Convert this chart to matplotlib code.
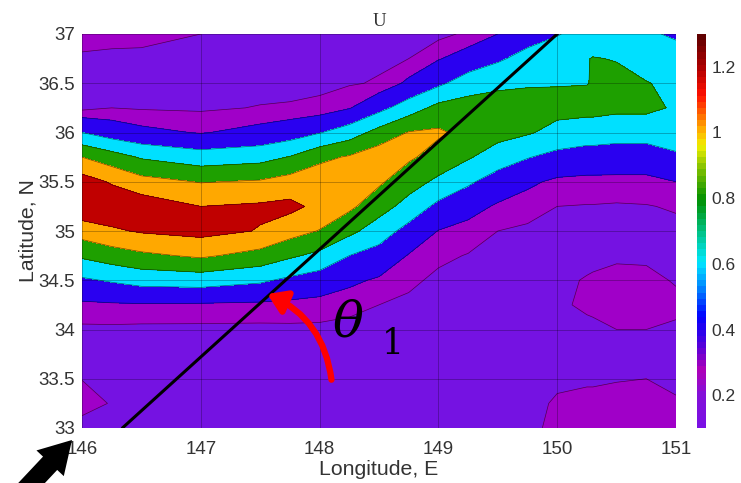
import numpy as np
import matplotlib
matplotlib.use('Agg')
import matplotlib.pyplot as plt
from matplotlib.cm import ScalarMappable
from matplotlib.colors import LinearSegmentedColormap, Normalize

plt.rcParams['font.family'] = ['Liberation Sans', 'DejaVu Sans']
plt.rcParams['mathtext.fontset'] = 'dejavuserif'

lon = [146, 146.25, 146.5, 147, 147.5, 147.75, 148, 148.25, 148.5, 148.75, 149, 149.25, 149.5, 149.75, 150, 150.25, 150.3, 150.5, 150.75, 151]
lat = [33, 33.25, 33.5, 33.75, 34, 34.25, 34.5, 34.75, 35, 35.25, 35.5, 35.75, 36, 36.25, 36.5, 36.75, 37]

# one row per longitude, values going north from 33
U = np.array([
    [.17, .23, .198, .17, .18, .27, .47, .73, .99, 1.25, 1.19, .90, .50, .17, .165, .185, .24],
    [.165, .195, .17, .165, .18, .28, .52, .80, 1.07, 1.24, 1.08, .79, .40, .20, .16, .18, .23],
    [.165, .165, .16, .16, .175, .285, .57, .86, 1.12, 1.22, .97, .68, .34, .19, .16, .18, .225],
    [.16, .16, .16, .16, .175, .28, .59, .93, 1.16, 1.10, .89, .59, .29, .185, .16, .17, .20],
    [.16, .16, .16, .16, .175, .27, .53, .83, 1.09, 1.13, .92, .63, .35, .205, .165, .16, .165],
    [.16, .16, .16, .16, .18, .26, .46, .73, .98, 1.15, .98, .71, .40, .21, .17, .16, .16],
    [.16, .16, .16, .16, .18, .25, .40, .65, .89, 1.05, 1.03, .85, .49, .22, .18, .16, .16],
    [.16, .16, .16, .16, .17, .23, .33, .50, .75, .94, 1.00, .92, .60, .29, .19, .17, .16],
    [.165, .165, .165, .165, .17, .20, .28, .42, .60, .78, .93, 1.02, .77, .44, .21, .18, .165],
    [.165, .165, .165, .165, .17, .18, .22, .29, .43, .63, .78, .93, .91, .60, .33, .20, .17],
    [.165, .165, .165, .165, .17, .17, .18, .22, .295, .45, .66, .82, .93, .76, .46, .29, .17],
    [.165, .165, .165, .165, .17, .17, .175, .195, .25, .36, .53, .72, .84, .79, .60, .37, .22],
    [.165, .17, .17, .17, .17, .165, .17, .18, .20, .28, .41, .60, .77, .79, .66, .47, .30],
    [.18, .175, .17, .17, .175, .175, .175, .175, .185, .235, .33, .51, .72, .79, .68, .57, .41],
    [.22, .21, .185, .175, .18, .19, .185, .175, .18, .20, .27, .44, .64, .76, .69, .60, .49],
    [.24, .22, .19, .175, .185, .21, .205, .18, .17, .195, .26, .41, .60, .76, .695, .69, .56],
    [.24, .22, .19, .175, .185, .215, .21, .18, .17, .195, .26, .41, .60, .76, .71, .71, .57],
    [.25, .23, .195, .185, .20, .23, .22, .19, .175, .19, .26, .40, .58, .74, .76, .69, .56],
    [.25, .23, .20, .19, .20, .225, .215, .19, .17, .195, .26, .40, .58, .74, .71, .60, .52],
    [.23, .205, .19, .18, .19, .215, .195, .18, .175, .21, .30, .47, .60, .68, .65, .56, .48],
]).T

levels = [0.1, 0.2, 0.3, 0.5, 0.7, 0.9, 1.1, 1.3]
band_colors = ['#7512e2', '#a000c8', '#2a00f0', '#00e0ff', '#1ea000', '#ffa800', '#c00000']

cbar_stops = [(0.0, '#7a10e4'), (0.08, '#8410d8'), (0.14, '#b000b8'), (0.2, '#5a00d8'), (0.28, '#0000ff'),
              (0.36, '#0090ff'), (0.42, '#00e8ff'), (0.5, '#00c080'), (0.58, '#009000'), (0.66, '#80c000'),
              (0.72, '#f0f000'), (0.76, '#ffb000'), (0.85, '#ff1000'), (0.92, '#b00000'), (1.0, '#600000')]
cbar_ticks = [0.2, 0.4, 0.6, 0.8, 1, 1.2]
cbar_labels = ['0.2', '0.4', '0.6', '0.8', '1', '1.2']

W, H = 741, 483
fig = plt.figure(figsize=(W / 100, H / 100), dpi=100)
ax = fig.add_axes([82 / W, 1 - 428 / H, 594 / W, 394 / H])

ax.contourf(lon, lat, U, levels=levels, colors=band_colors)
ax.contour(lon, lat, U, levels=levels[1:-1], colors='k', linewidths=0.5, alpha=0.55)

ax.set_xlim(146, 151)
ax.set_ylim(33, 37)
ax.set_xticks([146, 147, 148, 149, 150, 151])
ax.set_yticks([33, 33.5, 34, 34.5, 35, 35.5, 36, 36.5, 37])
ax.set_yticklabels(['33', '33.5', '34', '34.5', '35', '35.5', '36', '36.5', '37'])
ax.tick_params(length=0, labelsize=13.5, labelcolor='#333333')
ax.tick_params(axis='x', pad=9)
ax.tick_params(axis='y', pad=5)
ax.grid(True, color='k', linewidth=0.6, alpha=0.3)
ax.set_axisbelow(False)
for s in ax.spines.values():
    s.set_visible(False)
ax.set_xlabel('Longitude, E', fontsize=15.3, color='#333333', labelpad=2)
ax.set_ylabel('Latitude, N', fontsize=15.3, color='#333333', labelpad=1)
ax.set_title('U', fontsize=13.5, family='Liberation Serif', color='#333333', pad=6)

# section line and the annotations pasted on top
ax.plot([146.34, 150], [33, 37], color='k', lw=2.2, solid_capstyle='round', zorder=5)
ax.annotate('', xy=(147.56, 34.36), xytext=(148.1, 33.49),
            arrowprops=dict(arrowstyle='-|>,head_width=0.72,head_length=1.1', color='#ff0000', lw=4.5,
                            connectionstyle='arc3,rad=0.28', shrinkA=0, shrinkB=0), zorder=6)
ax.text(148.24, 34.07, r'$\theta$', fontsize=37, ha='center', va='center', color='k', zorder=6)
ax.text(148.62, 33.85, '1', fontsize=25, family='DejaVu Serif', ha='center', va='center', color='k', zorder=6)
fig.add_artist(plt.Annotation('', xy=(72 / W, 1 - 440 / H), xytext=(25 / W, 1 - 490 / H),
                              xycoords='figure fraction', textcoords='figure fraction',
                              arrowprops=dict(arrowstyle='simple,head_width=2.7,head_length=2.3,tail_width=1.4',
                                              mutation_scale=10, color='k', lw=0,
                                              shrinkA=0, shrinkB=0), annotation_clip=False))

cax = fig.add_axes([697 / W, 1 - 428 / H, 9 / W, 394 / H])
cmap = LinearSegmentedColormap.from_list('u_map', cbar_stops, N=64)
cb = fig.colorbar(ScalarMappable(Normalize(0.1, 1.3), cmap), cax=cax)
cb.set_ticks(cbar_ticks)
cb.set_ticklabels(cbar_labels)
cb.ax.tick_params(length=0, labelsize=12.5, labelcolor='#333333', pad=4)
cb.outline.set_visible(False)

fig.savefig('out.png', dpi=100)
